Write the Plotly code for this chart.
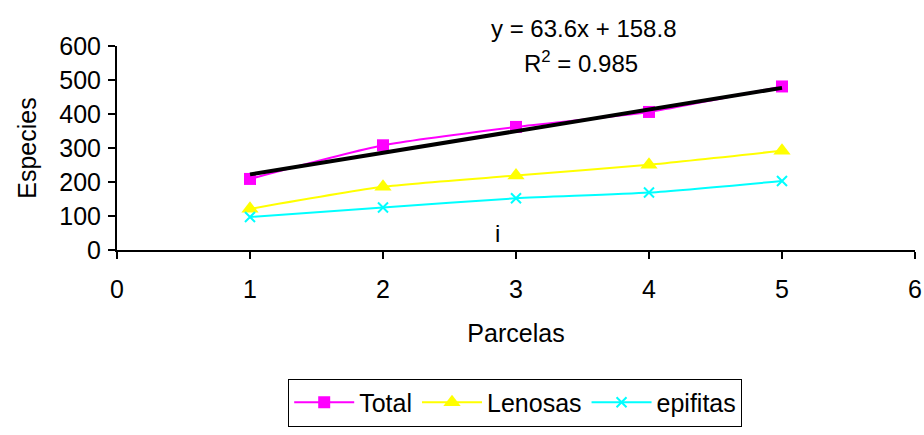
import plotly.graph_objects as go

parcelas = [1, 2, 3, 4, 5]
total = [209, 308, 362, 406, 481]
lenosas = [121, 186, 219, 251, 292]
epifitas = [97, 125, 152, 169, 203]
slope, intercept, r2 = 63.6, 158.8, 0.985
trend_y = [slope * x + intercept for x in parcelas]

font = "Liberation Sans"
FS = 25
fig = go.Figure()
fig.add_trace(go.Scatter(x=parcelas, y=total, name="Total", mode="lines+markers",
                         line=dict(color="#FF00FF", width=2, shape="spline", smoothing=0.6),
                         marker=dict(symbol="square", size=12, color="#FF00FF")))
fig.add_trace(go.Scatter(x=parcelas, y=lenosas, name="Lenosas", mode="lines+markers",
                         line=dict(color="#FFFF00", width=2, shape="spline", smoothing=0.6),
                         marker=dict(symbol="triangle-up", size=15, color="#FFFF00")))
fig.add_trace(go.Scatter(x=parcelas, y=epifitas, name="epifitas", mode="lines+markers",
                         line=dict(color="#00FFFF", width=2, shape="spline", smoothing=0.6),
                         marker=dict(symbol="x-thin", size=10, color="#00FFFF",
                                     line=dict(color="#00FFFF", width=2))))
fig.add_trace(go.Scatter(x=[parcelas[0], parcelas[-1]], y=[trend_y[0], trend_y[-1]],
                         mode="lines", line=dict(color="black", width=4), showlegend=False))

fig.add_annotation(x=0.585, y=1.085, xref="paper", yref="paper", xanchor="center", yanchor="middle",
                   text=f"y = {slope}x + {intercept}",
                   showarrow=False, font=dict(size=24, color="black", family=font))
fig.add_annotation(x=0.582, y=0.92, xref="paper", yref="paper", xanchor="center", yanchor="middle",
                   text=f"R<sup>2</sup> = {r2}",
                   showarrow=False, font=dict(size=24, color="black", family=font))
fig.add_annotation(x=2.86, y=50, xref="x", yref="y", xanchor="center", yanchor="middle", text="i",
                   showarrow=False, font=dict(size=24, color="black", family=font))

fig.update_layout(
    width=924, height=435,
    margin=dict(l=117, r=9, t=46, b=175),
    plot_bgcolor="white", paper_bgcolor="white",
    font=dict(family=font, size=FS, color="black"),
    xaxis=dict(range=[0, 6], dtick=1, showgrid=False, zeroline=False,
               showline=True, linecolor="black", linewidth=2,
               ticks="outside", ticklen=7, tickwidth=1.5, tickcolor="black",
               ticklabelstandoff=9,
               title=dict(text="Parcelas", standoff=22, font=dict(size=FS, family=font)),
               tickfont=dict(size=FS, family=font), automargin=False),
    yaxis=dict(range=[0, 600], dtick=100, showgrid=False, zeroline=False,
               showline=True, linecolor="black", linewidth=2,
               ticks="outside", ticklen=7, tickwidth=1.5, tickcolor="black",
               ticklabelstandoff=2,
               title=dict(text="Especies", standoff=16, font=dict(size=FS, family=font)),
               tickfont=dict(size=FS, family=font), automargin=False),
    legend=dict(orientation="h", x=0.499, xanchor="center", y=-0.63, yanchor="top",
                bordercolor="black", borderwidth=1, font=dict(size=FS, family=font),
                itemwidth=60),
)
fig.write_html("out.html")
